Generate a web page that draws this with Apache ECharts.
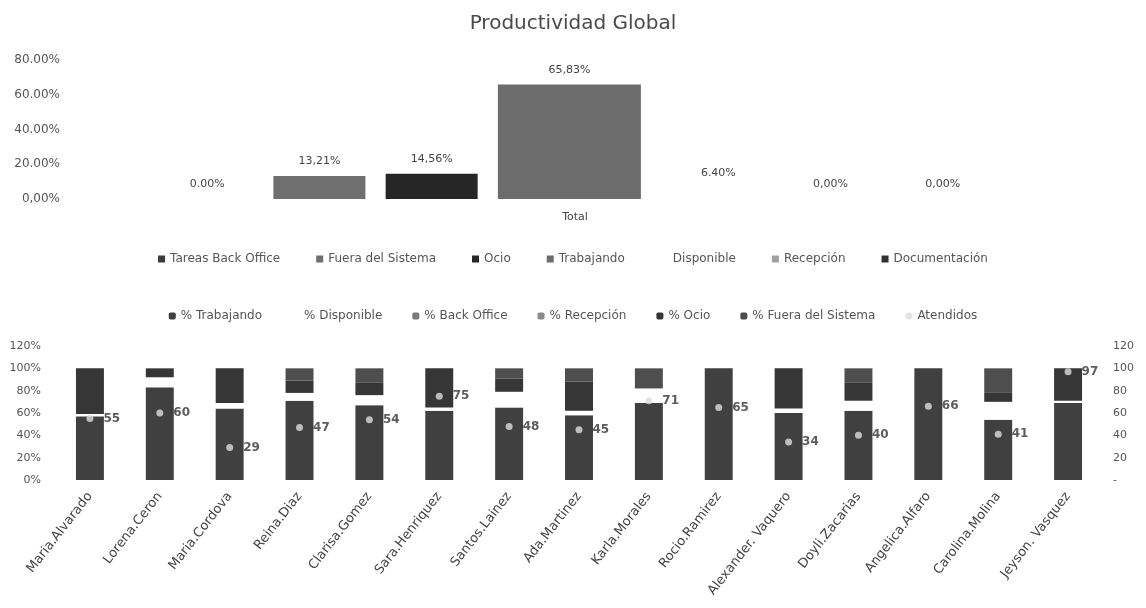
<!DOCTYPE html>
<html>
<head>
<meta charset="utf-8">
<script src="https://cdn.jsdelivr.net/npm/echarts@6/dist/echarts.min.js"></script>
<style>
  html, body { margin: 0; padding: 0; background: #fff; }
  #chart { width: 1146px; height: 608px; }
</style>
</head>
<body>
<div id="chart"></div>
<script>
// ---- Top chart: Productividad Global ----
const globalCategory = ['Total'];
const globalSeriesNames = ['Tareas Back Office', 'Fuera del Sistema', 'Ocio', 'Trabajando', 'Disponible', 'Recepción', 'Documentación'];
const globalValues = [0.00, 13.21, 14.56, 65.83, 6.40, 0.00, 0.00];
const globalValueLabels = ['0.00%', '13,21%', '14,56%', '65,83%', '6.40%', '0,00%', '0,00%'];
const globalTickLabels = { 0: '0,00%', 20: '20.00%', 40: '40.00%', 60: '60.00%', 80: '80.00%' };

// ---- Bottom chart: per agent ----
const agents = ['Maria.Alvarado', 'Lorena.Ceron', 'Maria.Cordova', 'Reina.Diaz', 'Clarisa.Gomez', 'Sara.Henriquez', 'Santos.Lainez', 'Ada.Martinez', 'Karla.Morales', 'Rocio.Ramirez', 'Alexander. Vaquero', 'Doyli.Zacarias', 'Angelica.Alfaro', 'Carolina.Molina', 'Jeyson. Vasquez'];
const pctTrabajando = [57, 83, 64, 71, 67, 62, 65, 58, 69, 100, 60, 62, 100, 54, 69];
const pctDisponible = [2, 9, 5, 7, 9, 3, 14, 4, 13, 0, 4, 9, 0, 16, 2];
const pctBackOffice = [0, 0, 0, 0, 0, 0, 0, 0, 0, 0, 0, 0, 0, 0, 0];
const pctRecepcion = [0, 0, 0, 0, 0, 0, 0, 0, 0, 0, 0, 0, 0, 0, 0];
const pctOcio = [41, 8, 31, 11, 11, 35, 12, 26, 0, 0, 36, 16, 0, 8, 29];
const pctFuera = [0, 0, 0, 11, 13, 0, 9, 12, 18, 0, 0, 13, 0, 22, 0];
const atendidos = [55, 60, 29, 47, 54, 75, 48, 45, 71, 65, 34, 40, 66, 41, 97];

const FONT = 'DejaVu Sans';
const globalColors = ['#3a3a3a', '#6f6f6f', '#262626', '#6c6c6c', '#ffffff', '#a0a0a0', '#303030'];
const globalBarWidths = [92, 92, 92, 143, 92, 92, 92];

const chart = echarts.init(document.getElementById('chart'), null, { renderer: 'canvas' });

const topSeries = globalSeriesNames.map((name, i) => ({
  name: name,
  type: 'bar',
  xAxisIndex: 0,
  yAxisIndex: 0,
  barWidth: globalBarWidths[i],
  barGap: '22%',
  itemStyle: { color: globalColors[i] },
  label: {
    show: true,
    position: 'top',
    distance: 9,
    fontFamily: FONT,
    fontSize: 11,
    color: '#444',
    formatter: () => globalValueLabels[i]
  },
  data: [globalValues[i]]
}));

const stackDefs = [
  { name: '% Trabajando', data: pctTrabajando, color: '#404040' },
  { name: '% Disponible', data: pctDisponible, color: '#ffffff' },
  { name: '% Back Office', data: pctBackOffice, color: '#7a7a7a' },
  { name: '% Recepción', data: pctRecepcion, color: '#8a8a8a' },
  { name: '% Ocio', data: pctOcio, color: '#363636' },
  { name: '% Fuera del Sistema', data: pctFuera, color: '#4e4e4e' }
];

const bottomSeries = stackDefs.map(d => ({
  name: d.name,
  type: 'bar',
  stack: 'agent',
  xAxisIndex: 1,
  yAxisIndex: 1,
  barCategoryGap: '60%',
  itemStyle: { color: d.color },
  data: d.data
}));

bottomSeries.push({
  name: 'Atendidos',
  type: 'scatter',
  xAxisIndex: 1,
  yAxisIndex: 2,
  symbol: 'circle',
  symbolSize: 7,
  itemStyle: { color: '#dcdcdc' },
  label: {
    show: true,
    position: 'right',
    distance: 10,
    fontFamily: FONT,
    fontSize: 12,
    fontWeight: 'bold',
    color: '#333'
  },
  z: 10,
  data: atendidos
});

const option = {
  animation: false,
  backgroundColor: '#ffffff',
  textStyle: { fontFamily: FONT },
  title: {
    text: 'Productividad Global',
    left: 'center',
    top: 9,
    textStyle: { fontFamily: FONT, fontSize: 20, fontWeight: 'normal', color: '#4a4a4a' }
  },
  legend: [
    {
      data: globalSeriesNames,
      top: 248,
      left: 'center',
      itemWidth: 7,
      itemHeight: 7,
      itemGap: 36,
      icon: 'rect',
      textStyle: { fontFamily: FONT, fontSize: 12, color: '#555' }
    },
    {
      data: stackDefs.map(d => d.name).concat(['Atendidos']),
      top: 305,
      left: 'center',
      itemWidth: 7,
      itemHeight: 7,
      itemGap: 30,
      textStyle: { fontFamily: FONT, fontSize: 12, color: '#555' }
    }
  ],
  grid: [
    { left: 68, right: 64, top: 60, height: 139 },
    { left: 55, right: 43, top: 346, height: 134 }
  ],
  xAxis: [
    {
      type: 'category',
      gridIndex: 0,
      data: globalCategory,
      axisLine: { show: false },
      axisTick: { show: false },
      axisLabel: { fontFamily: FONT, fontSize: 11, color: '#444', margin: 13 }
    },
    {
      type: 'category',
      gridIndex: 1,
      data: agents,
      axisLine: { show: false },
      axisTick: { show: false },
      axisLabel: { fontFamily: FONT, fontSize: 13, color: '#444', rotate: 52, margin: 14, interval: 0 }
    }
  ],
  yAxis: [
    {
      type: 'value',
      gridIndex: 0,
      min: 0,
      max: 80,
      interval: 20,
      splitLine: { show: false },
      axisLine: { show: false },
      axisTick: { show: false },
      axisLabel: {
        fontFamily: FONT, fontSize: 12, color: '#555', margin: 8,
        formatter: v => globalTickLabels[v]
      }
    },
    {
      type: 'value',
      gridIndex: 1,
      min: 0,
      max: 120,
      interval: 20,
      splitLine: { show: false },
      axisLine: { show: false },
      axisTick: { show: false },
      axisLabel: { fontFamily: FONT, fontSize: 11, color: '#555', margin: 14, formatter: v => v + '%' }
    },
    {
      type: 'value',
      gridIndex: 1,
      position: 'right',
      min: 0,
      max: 120,
      interval: 20,
      splitLine: { show: false },
      axisLine: { show: false },
      axisTick: { show: false },
      axisLabel: { fontFamily: FONT, fontSize: 11, color: '#555', margin: 10, formatter: v => (v === 0 ? '-' : String(v)) }
    }
  ],
  series: topSeries.concat(bottomSeries)
};

chart.setOption(option);
</script>
</body>
</html>
